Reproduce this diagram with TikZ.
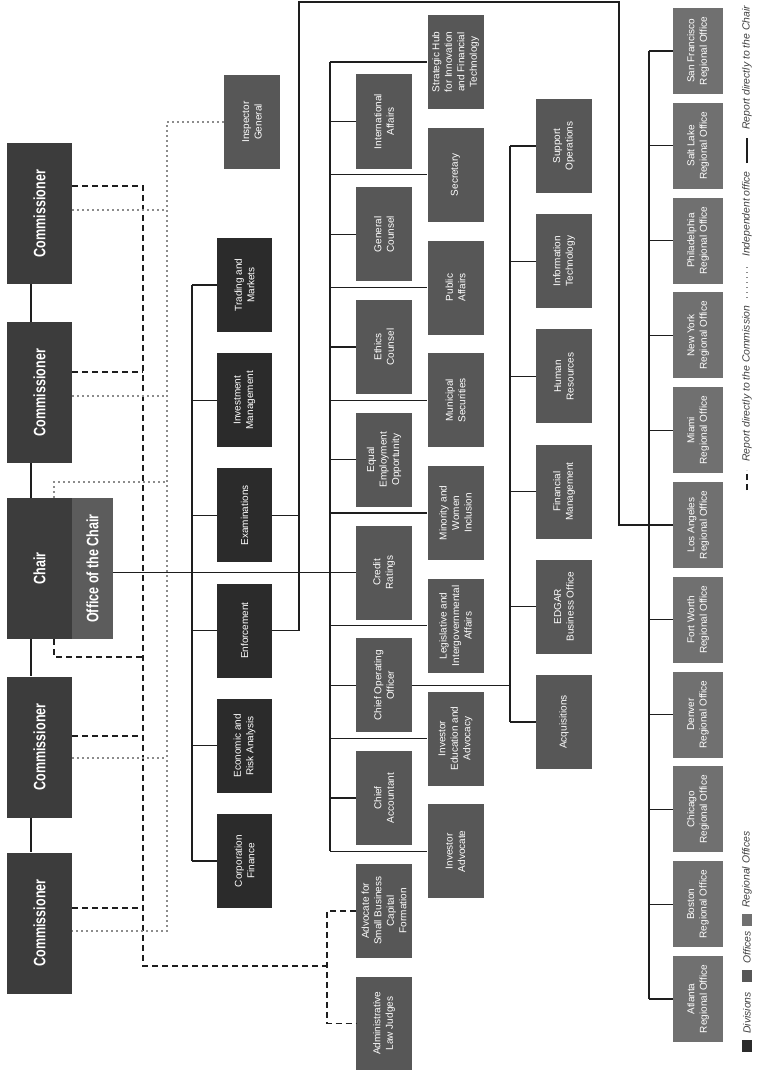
\documentclass[tikz,border=0pt]{standalone}
\usepackage{fontspec}
\setmainfont{Liberation Sans}
\newfontfamily\condfont[FakeStretch=0.76]{Liberation Sans}
\usetikzlibrary{calc}
\definecolor{secCommish}{RGB}{60,60,60}
\definecolor{secDivision}{RGB}{43,43,43}
\definecolor{secOffice}{RGB}{87,87,87}
\definecolor{secChairOffice}{RGB}{92,92,92}
\definecolor{secRegional}{RGB}{112,112,112}
\definecolor{secLine}{RGB}{30,30,30}
\definecolor{secDot}{RGB}{140,140,140}
\tikzset{
  orgbox/.style={rotate=90, inner sep=1pt, align=center, text=white, font=\fontsize{10}{12.5}\selectfont},
  commbox/.style={orgbox, fill=secCommish, minimum width=141pt, minimum height=65pt, font=\condfont\bfseries\fontsize{16.5}{18}\selectfont},
  divbox/.style={orgbox, fill=secDivision, minimum width=94pt, minimum height=55pt},
  offbox/.style={orgbox, fill=secOffice, minimum width=94pt, minimum height=56pt},
  regbox/.style={orgbox, fill=secRegional, minimum width=86pt, minimum height=50pt},
  chairline/.style={secLine, line width=1.3pt},
  commline/.style={secLine, line width=1.4pt, dash pattern=on 6pt off 4pt},
  indline/.style={secDot, line width=1.4pt, dash pattern=on 1.4pt off 3.6pt},
  legendtext/.style={rotate=90, anchor=west, inner sep=0pt, text=black!75, font=\itshape\fontsize{10.4}{12}\selectfont},
  keybox/.style={inner sep=0pt, minimum width=10pt, minimum height=12pt},
}
\begin{document}
\begin{tikzpicture}[x=1pt,y=-1pt]
  \useasboundingbox[fill=white] (0,0) rectangle (756,1070);
  % commission
  \node[commbox] (c1) at (39.5,213.5) {Commissioner};
  \node[commbox] (c2) at (39.5,392.5) {Commissioner};
  \node[commbox] (chair) at (39.5,568.5) {Chair};
  \node[commbox] (c3) at (39.5,747) {Commissioner};
  \node[commbox] (c4) at (39.5,923) {Commissioner};
  \node[commbox, fill=secChairOffice, minimum height=41pt] (ooc) at (92.5,568.5) {Office of the Chair};
  % divisions
  \node[divbox] (tm) at (244.5,285) {Trading and\\Markets};
  \node[divbox] (im) at (244.5,400.2) {Investment\\Management};
  \node[divbox] (ex) at (244.5,515.4) {Examinations};
  \node[divbox] (enf) at (244.5,630.6) {Enforcement};
  \node[divbox] (era) at (244.5,745.8) {Economic and\\Risk Analysis};
  \node[divbox] (cf) at (244.5,861) {Corporation\\Finance};
  \node[offbox] (ig) at (252,122) {Inspector\\General};
  % offices
  \node[offbox] (ia) at (384,121.5) {International\\Affairs};
  \node[offbox] (gc) at (384,234.3) {General\\Counsel};
  \node[offbox] (ec) at (384,347) {Ethics\\Counsel};
  \node[offbox] (eeo) at (384,459.8) {Equal\\Employment\\Opportunity};
  \node[offbox] (cr) at (384,572.5) {Credit\\Ratings};
  \node[offbox] (coo) at (384,685.3) {Chief Operating\\Officer};
  \node[offbox] (ca) at (384,798) {Chief\\Accountant};
  \node[offbox] (asb) at (384,910.8) {Advocate for\\Small Business\\Capital\\Formation};
  \node[offbox] (alj) at (384,1023.5) {Administrative\\Law Judges};
  \node[offbox] (sh) at (455.5,62) {Strategic Hub\\for Innovation\\and Financial\\Technology};
  \node[offbox] (sec) at (455.5,174.8) {Secretary};
  \node[offbox] (pa) at (455.5,287.5) {Public\\Affairs};
  \node[offbox] (ms) at (455.5,400.3) {Municipal\\Securities};
  \node[offbox] (mwi) at (455.5,513) {Minority and\\Women\\Inclusion};
  \node[offbox] (lia) at (455.5,625.8) {Legislative and\\Intergovernmental\\Affairs};
  \node[offbox] (iea) at (455.5,738.5) {Investor\\Education and\\Advocacy};
  \node[offbox] (iad) at (455.5,851.3) {Investor\\Advocate};
  % operations
  \node[offbox] (so) at (564,146) {Support\\Operations};
  \node[offbox] (it) at (564,261.2) {Information\\Technology};
  \node[offbox] (hr) at (564,376.4) {Human\\Resources};
  \node[offbox] (fm) at (564,491.6) {Financial\\Management};
  \node[offbox] (edgar) at (564,606.8) {EDGAR\\Business Office};
  \node[offbox] (acq) at (564,722) {Acquisitions};
  % regional offices
  \node[regbox] (sf) at (698,51) {San Francisco\\Regional Office};
  \node[regbox] (slc) at (698,145.8) {Salt Lake\\Regional Office};
  \node[regbox] (phl) at (698,240.6) {Philadelphia\\Regional Office};
  \node[regbox] (ny) at (698,335.4) {New York\\Regional Office};
  \node[regbox] (mia) at (698,430.2) {Miami\\Regional Office};
  \node[regbox] (la) at (698,525) {Los Angeles\\Regional Office};
  \node[regbox] (fw) at (698,619.8) {Fort Worth\\Regional Office};
  \node[regbox] (den) at (698,714.6) {Denver\\Regional Office};
  \node[regbox] (chi) at (698,809.4) {Chicago\\Regional Office};
  \node[regbox] (bos) at (698,904.2) {Boston\\Regional Office};
  \node[regbox] (atl) at (698,999) {Atlanta\\Regional Office};
  % bus lines
  \coordinate (divbus) at (192,0);
  \coordinate (offbus) at (330,0);
  \coordinate (opsbus) at (510,0);
  \coordinate (regbus) at (649,0);
  \coordinate (loopA) at (299,2);
  \coordinate (loopB) at (619,2);
  \coordinate (cm1) at (143,186);
  \coordinate (cm2) at (143,372);
  \coordinate (cm3) at (143,657);
  \coordinate (cm4) at (143,736);
  \coordinate (cm5) at (143,908);
  \coordinate (cmEnd) at (143,966);
  \coordinate (cmAdv) at (327,966);
  \coordinate (ind1) at (167,210);
  \coordinate (ind2) at (167,396);
  \coordinate (ind3) at (167,482);
  \coordinate (ind4) at (167,758);
  \coordinate (ind5) at (167,931);
  % report to the chair
  \draw[chairline] ([xshift=-8.5pt]c1.west) -- ([xshift=-8.5pt]c2.east);
  \draw[chairline] ([xshift=-8.5pt]c2.west) -- ([xshift=-8.5pt]chair.east);
  \draw[chairline] ([xshift=-8.5pt]chair.west) -- ([xshift=-8.5pt]c3.east);
  \draw[chairline] ([xshift=-8.5pt]c3.west) -- ([xshift=-8.5pt]c4.east);
  \draw[chairline] (ooc.south |- cr) -- (cr);
  \draw[chairline] (divbus |- tm) -- (divbus |- cf);
  \foreach \n in {tm,im,ex,enf,era,cf} \draw[chairline] (divbus |- \n) -- (\n);
  \draw[chairline] (ex) -- (loopA |- ex);
  \draw[chairline] (enf) -| (loopA) -- (loopB) |- (la);
  \draw[chairline] (offbus |- sh) -- (offbus |- iad);
  \foreach \n in {sh,ia,sec,gc,pa,ec,ms,eeo,mwi,cr,lia,coo,iea,ca,iad} \draw[chairline] (offbus |- \n) -- (\n);
  \draw[chairline] (coo) -- (opsbus |- coo);
  \draw[chairline] (opsbus |- so) -- (opsbus |- acq);
  \foreach \n in {so,it,hr,fm,edgar,acq} \draw[chairline] (opsbus |- \n) -- (\n);
  \draw[chairline] (regbus |- sf) -- (regbus |- atl);
  \foreach \n in {sf,slc,phl,ny,mia,la,fw,den,chi,bos,atl} \draw[chairline] (regbus |- \n) -- (\n);
  % report to the commission
  \draw[commline] (c1.south |- cm1) -- (cm1) -- (cmEnd) -- (cmAdv);
  \draw[commline] (c2.south |- cm2) -- (cm2);
  \draw[commline] ([xshift=14.5pt]chair.west) |- (cm3);
  \draw[commline] (c3.south |- cm4) -- (cm4);
  \draw[commline] (c4.south |- cm5) -- (cm5);
  \draw[commline] (asb.north) -| (cmAdv) |- (alj.north);
  % independent office
  \draw[indline] (ig.north) -| (ind5) -- (c4.south |- ind5);
  \draw[indline] (c1.south |- ind1) -- (ind1);
  \draw[indline] (c2.south |- ind2) -- (ind2);
  \draw[indline] ([xshift=14.5pt]chair.east) |- (ind3);
  \draw[indline] (c3.south |- ind4) -- (ind4);
  % legend
  \draw[commline] (747,490) -- (747,470);
  \node[legendtext] (lgComm) at (747,462) {Report directly to the Commission};
  \draw[indline] (747,298) -- (747,265);
  \node[legendtext] (lgInd) at (747,257) {Independent office};
  \draw[chairline] (747,163) -- (747,138);
  \node[legendtext] (lgChair) at (747,130) {Report directly to the Chair};
  \node[keybox, fill=secDivision] (keyDiv) at (747,1046) {};
  \node[legendtext] (lgDiv) at (747,1034) {Divisions};
  \node[keybox, fill=secOffice] (keyOff) at (747,976) {};
  \node[legendtext] (lgOff) at (747,964) {Offices};
  \node[keybox, fill=secRegional] (keyReg) at (747,920) {};
  \node[legendtext] (lgReg) at (747,908) {Regional Offices};
\end{tikzpicture}
\end{document}
